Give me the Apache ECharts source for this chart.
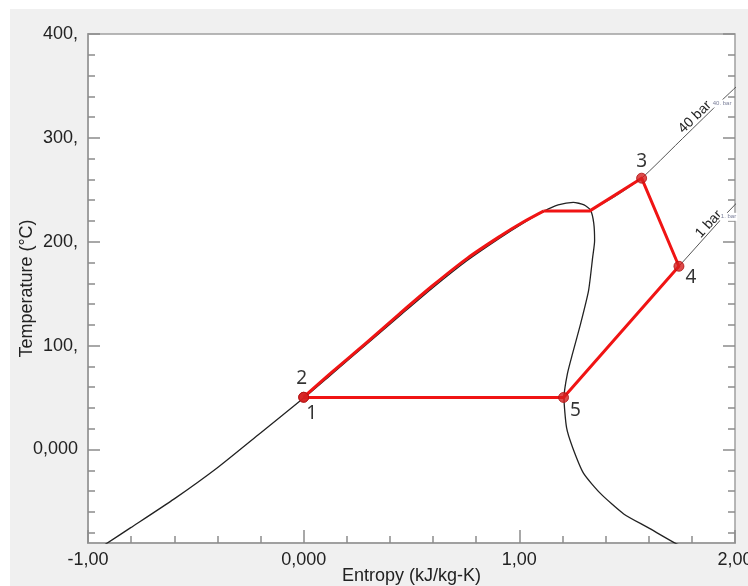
<!DOCTYPE html>
<html>
<head>
<meta charset="utf-8">
<script src="https://cdn.jsdelivr.net/npm/echarts@6/dist/echarts.min.js"></script>
<style>
  html, body { margin: 0; padding: 0; background: #ffffff; }
  #panel { position: absolute; left: 10px; top: 9px; width: 738px; height: 577px; background: #f0f0f0; }
  #chart { position: absolute; left: 0; top: 0; width: 748px; height: 586px; }
</style>
</head>
<body>
<div id="panel"></div>
<div id="chart"></div>
<script>
// Saturation dome (liquid side up to the top, then back down the vapour side)
const domeS = [-0.925, -0.80, -0.60, -0.40, -0.20, 0.00, 0.135, 0.293, 0.447, 0.60, 0.758, 0.912, 1.014, 1.112, 1.18, 1.25, 1.30, 1.33, 1.345, 1.349, 1.34, 1.321, 1.284, 1.247, 1.223, 1.207, 1.219, 1.247, 1.298, 1.377, 1.484, 1.595, 1.726, 1.745];
const domeT = [-92, -75, -47.5, -17.5, 16, 49.5, 73.5, 101.5, 129, 156, 182, 204, 217.5, 229.2, 235.5, 238, 235.5, 230.5, 218, 201, 185, 153, 121, 92.5, 73, 50, 21, 2, -23, -42.5, -62, -75, -90.6, -92];

// Superheated parts of the two isobars
const p40S = [1.325, 1.44, 1.567, 1.74, 1.916, 2.02];
const p40T = [229.5, 243, 261.2, 296, 331.6, 352];
const p1S = [1.74, 1.944, 2.02];
const p1T = [176.4, 223.6, 240];

// Cycle: heating of the pumped liquid at 40 bar (2 -> start of evaporation)
const heatS = [0.0, 0.135, 0.293, 0.447, 0.60, 0.758, 0.912, 1.014, 1.112];
const heatT = [50.5, 75.2, 103.1, 131.1, 158.1, 184, 205.5, 218.5, 229.5];
// Cycle: evaporation, superheating, expansion and condensation (-> 3 -> 4 -> 5 -> 1)
const loopS = [1.112, 1.325, 1.567, 1.740, 1.205, 0.0];
const loopT = [229.5, 229.5, 261.2, 176.4, 50.1, 50.1];

// State points
const stateNames = ['2', '1', '3', '4', '5'];
const stateS = [0.0, 0.0, 1.567, 1.740, 1.205];
const stateT = [50.3, 50.3, 261.2, 176.4, 50.1];

// Isobar captions
const isobarNames = ['40 bar', '1 bar'];
const isobarLabelS = [1.814, 1.879];
const isobarLabelT = [320, 217];
const isobarTags = ['40. bar', '1. bar'];
const isobarTagS = [1.94, 1.97];
const isobarTagT = [333, 224];

// Axis ticks
const yMajor = [0, 100, 200, 300, 400];
const yMinor = [-80, -60, -40, -20, 20, 40, 60, 80, 120, 140, 160, 180, 220, 240, 260, 280, 320, 340, 360, 380];
const xLabels = {'-1': '-1,00', '0': '0,000', '1': '1,00', '2': '2,00'};
const yLabels = {'0': '0,000', '100': '100,', '200': '200,', '300': '300,', '400': '400,'};

const zip = (a, b) => a.map((v, i) => [v, b[i]]);

const FONT = 'Liberation Sans';
const tickColor = '#8c8c8c';

function yAxisTicks(position, values, length, showLine, extra) {
  return Object.assign({
    type: 'value', min: -90, max: 400, position: position,
    axisLine: { show: showLine, onZero: false, lineStyle: { color: '#a0a0a0', width: 2 } },
    axisTick: { show: true, inside: true, length: length, customValues: values, lineStyle: { color: tickColor, width: 1.5 } },
    axisLabel: { show: false },
    splitLine: { show: false }
  }, extra || {});
}

const chart = echarts.init(document.getElementById('chart'), null, { renderer: 'canvas' });
chart.setOption({
  animation: false,
  backgroundColor: 'transparent',
  grid: {
    left: 88, top: 34, right: 13, bottom: 43, outerBoundsMode: 'none', containLabel: false,
    show: true, backgroundColor: '#ffffff', borderColor: '#a0a0a0', borderWidth: 1.5
  },
  xAxis: {
    type: 'value', min: -1, max: 2, interval: 1,
    axisLine: { show: true, onZero: false, lineStyle: { color: '#a0a0a0', width: 2 } },
    axisTick: { show: true, inside: true, length: 13, lineStyle: { color: tickColor, width: 1.5 } },
    minorTick: { show: true, splitNumber: 5, length: 7, lineStyle: { color: tickColor, width: 1.5 } },
    splitLine: { show: false },
    axisLabel: { formatter: v => xLabels[String(v)], fontFamily: FONT, fontSize: 18, color: '#222', margin: 8, hideOverlap: false },
    name: 'Entropy (kJ/kg-K)', nameLocation: 'middle', nameGap: 24, nameMoveOverlap: false,
    nameTextStyle: { fontFamily: FONT, fontSize: 18, color: '#222' }
  },
  yAxis: [
    yAxisTicks('left', yMajor, 12, true, {
      axisLabel: { show: true, customValues: yMajor, formatter: v => yLabels[String(v)], fontFamily: FONT, fontSize: 18, color: '#222', margin: 10 },
      name: 'Temperature (°C)', nameLocation: 'middle', nameGap: 52, nameRotate: 90, nameMoveOverlap: false,
      nameTextStyle: { fontFamily: FONT, fontSize: 18, color: '#222' }
    }),
    yAxisTicks('left', yMinor, 7, false),
    yAxisTicks('right', yMajor, 12, false),
    yAxisTicks('right', yMinor, 7, false)
  ],
  series: [
    {
      type: 'line', name: 'dome', data: zip(domeS, domeT), showSymbol: false, smooth: 0.2,
      lineStyle: { color: '#222222', width: 1.3 }, z: 2
    },
    {
      type: 'line', name: '40 bar', data: zip(p40S, p40T), showSymbol: false, smooth: 0.2,
      lineStyle: { color: '#555555', width: 1 }, z: 2,
      markPoint: {
        symbol: 'circle', symbolSize: 0, silent: true,
        data: [
          { coord: [isobarLabelS[0], isobarLabelT[0]], label: { show: true, formatter: isobarNames[0], rotate: 44, position: 'inside', fontFamily: FONT, fontSize: 14, color: '#222' } },
          { coord: [isobarTagS[0], isobarTagT[0]], label: { show: true, formatter: isobarTags[0], position: 'inside', fontFamily: FONT, fontSize: 6, color: '#7a7f99', backgroundColor: '#ffffff', padding: [1, 1] } }
        ]
      }
    },
    {
      type: 'line', name: '1 bar', data: zip(p1S, p1T), showSymbol: false,
      lineStyle: { color: '#555555', width: 1 }, z: 2,
      markPoint: {
        symbol: 'circle', symbolSize: 0, silent: true,
        data: [
          { coord: [isobarLabelS[1], isobarLabelT[1]], label: { show: true, formatter: isobarNames[1], rotate: 47, position: 'inside', fontFamily: FONT, fontSize: 14, color: '#222' } },
          { coord: [isobarTagS[1], isobarTagT[1]], label: { show: true, formatter: isobarTags[1], position: 'inside', fontFamily: FONT, fontSize: 6, color: '#7a7f99', backgroundColor: '#ffffff', padding: [1, 1] } }
        ]
      }
    },
    {
      type: 'line', name: 'heating', data: zip(heatS, heatT), showSymbol: false, smooth: 0.3,
      lineStyle: { color: '#f01414', width: 3, join: 'round' }, z: 4
    },
    {
      type: 'line', name: 'cycle', data: zip(loopS, loopT), showSymbol: false,
      lineStyle: { color: '#f01414', width: 3, join: 'round' }, z: 4
    },
    {
      type: 'scatter', name: 'states', z: 5,
      symbol: 'circle', symbolSize: 10,
      itemStyle: { color: '#d41e1e', borderColor: '#b01010', borderWidth: 1 },
      data: stateNames.map((n, i) => {
        const offsets = { '2': [-2, -19], '1': [8, 16], '3': [0, -17], '4': [12, 11], '5': [12, 13] };
        return {
          value: [stateS[i], stateT[i]],
          label: { show: true, formatter: n, position: 'inside', offset: offsets[n], fontFamily: 'Noto Sans', fontSize: 19, color: '#000' }
        };
      })
    }
  ]
});
</script>
</body>
</html>
